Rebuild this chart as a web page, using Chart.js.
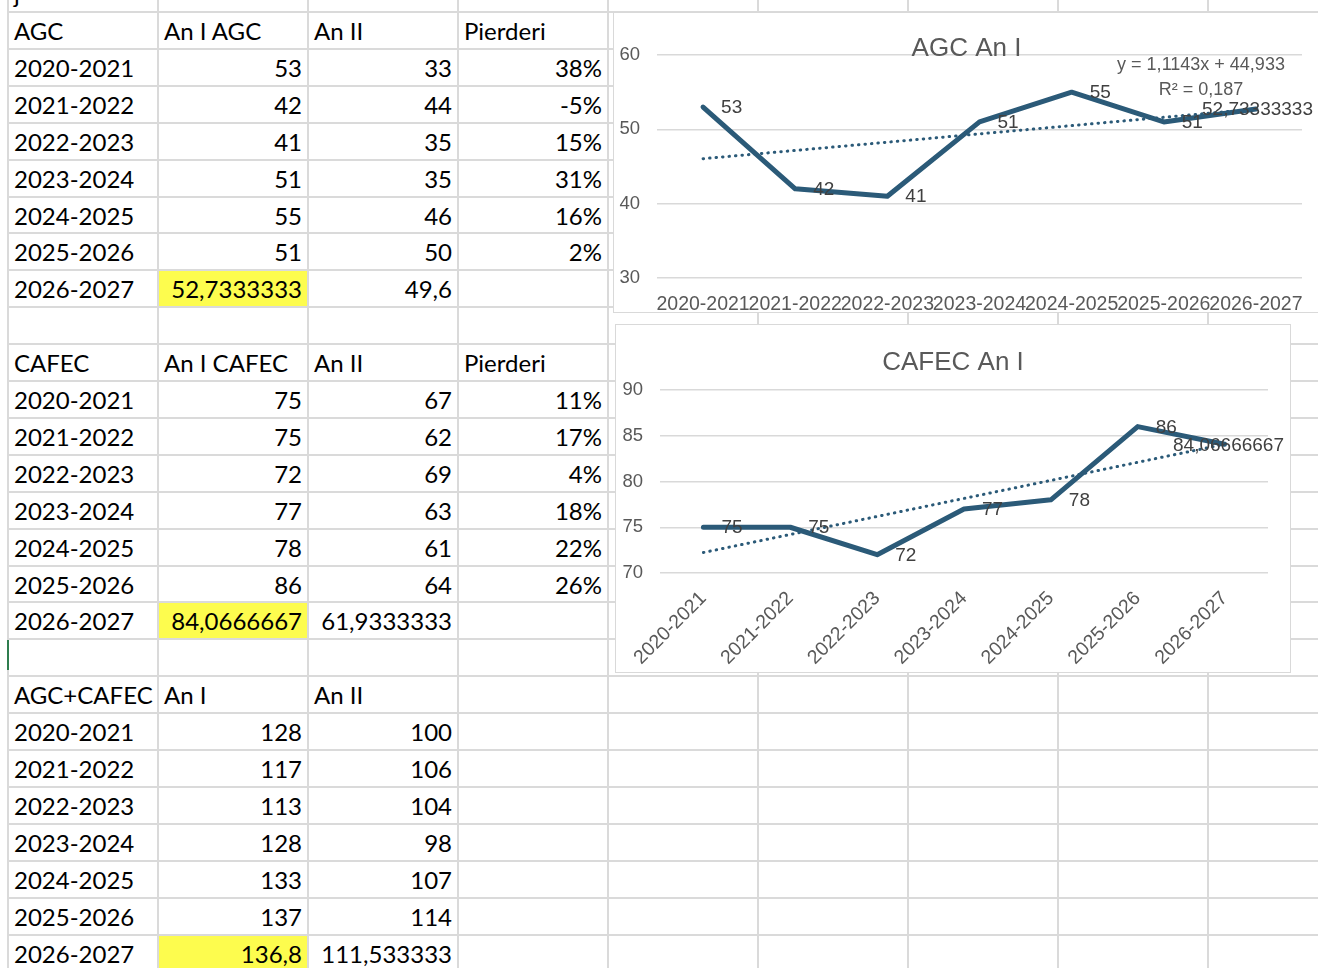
<!DOCTYPE html>
<html>
<head>
<meta charset="utf-8">
<title>AGC / CAFEC</title>
<script src="https://cdn.jsdelivr.net/npm/chart.js@4.4.1/dist/chart.umd.min.js"></script>
<style>
  html, body { margin: 0; padding: 0; background: #fff; }
  body { width: 1318px; height: 968px; overflow: hidden; position: relative; font-family: Lato, 'Open Sans', sans-serif; }
  .vline { position: absolute; top: 0; width: 2px; height: 968px; background: #dadada; }
  .hline { position: absolute; left: 8px; width: 1310px; height: 2px; background: #dadada; }
  .cell { position: absolute; width: 148px; height: 35px; line-height: 35px; font-size: 24px; color: #000;
          white-space: nowrap; box-sizing: border-box; padding: 0 5px 0 5px; }
  .num { text-align: right; direction: rtl; }
  .num span { direction: ltr; unicode-bidi: embed; }
  .hl { background: #fdfc4e; }
  .chart-box { position: absolute; background: #fff; border: 1px solid #d9d9d9; }
  .chart-box canvas { display: block; }
  #sel { position: absolute; left: 7px; top: 640px; width: 2px; height: 30px; background: #2f7d4f; }
</style>
</head>
<body>
<div id="sheet"></div>
<div id="sel"></div>
<div class="chart-box" style="left:613px; top:12px; width:705px; height:299px;">
  <canvas id="agcChart" width="705" height="299"></canvas>
</div>
<div class="chart-box" style="left:615px; top:324px; width:674px; height:347px;">
  <canvas id="cafecChart" width="674" height="347"></canvas>
</div>

<script>
// ---------------- data ----------------
const years = ['2020-2021', '2021-2022', '2022-2023', '2023-2024', '2024-2025', '2025-2026', '2026-2027'];

const agcAn1 = [53, 42, 41, 51, 55, 51, 52.73333333];
const agcAn2 = [33, 44, 35, 35, 46, 50, 49.6];
const agcLoss = [38, -5, 15, 31, 16, 2, null];

const cafecAn1 = [75, 75, 72, 77, 78, 86, 84.06666667];
const cafecAn2 = [67, 62, 69, 63, 61, 64, 61.9333333];
const cafecLoss = [11, 17, 4, 18, 22, 26, null];

const totalAn1 = [128, 117, 113, 128, 133, 137, 136.8];
const totalAn2 = [100, 106, 104, 98, 107, 114, 111.533333];

// linear trendlines as shown in the charts
const agcTrend = [46.05, 47.16, 48.27, 49.39, 50.50, 51.62, 52.73];
const cafecTrend = [72.24, 74.21, 76.18, 78.15, 80.12, 82.10, 84.07];

const agcTicks = [30, 60, 10];   // min, max, step
const cafecTicks = [70, 90, 5];

// ---------------- sheet ----------------
const sheet = document.getElementById('sheet');
const COL0 = 8, COLW = 150, ROW0 = 12, ROWH = 36.9;

for (let c = 0; c <= 8; c++) {
  const d = document.createElement('div');
  d.className = 'vline';
  d.style.left = (COL0 + c * COLW - 1) + 'px';
  sheet.appendChild(d);
}
for (let r = 0; r <= 26; r++) {
  const d = document.createElement('div');
  d.className = 'hline';
  d.style.top = Math.round(ROW0 + r * ROWH - 1) + 'px';
  sheet.appendChild(d);
}

function fmtCell(v) {
  if (v === null || v === undefined) return '';
  return String(Number(v.toPrecision(9))).replace('.', ',');
}

function addCell(r, c, text, isNum, highlight) {
  const d = document.createElement('div');
  d.className = 'cell' + (isNum ? ' num' : '') + (highlight ? ' hl' : '');
  d.style.left = (COL0 + c * COLW + 1) + 'px';
  d.style.top = Math.round(ROW0 + r * ROWH + 1) + 'px';
  if (isNum) {
    const s = document.createElement('span');
    s.textContent = text;
    d.appendChild(s);
  } else {
    d.textContent = text;
  }
  sheet.appendChild(d);
}

// stray text from the row above
addCell(-1, 0, 'j', false, false);

function addBlock(startRow, headers, an1, an2, loss) {
  headers.forEach((h, c) => addCell(startRow, c, h, false, false));
  years.forEach((y, i) => {
    const r = startRow + 1 + i;
    const last = i === years.length - 1;
    addCell(r, 0, y, false, false);
    addCell(r, 1, fmtCell(an1[i]), true, last);
    addCell(r, 2, fmtCell(an2[i]), true, false);
    if (loss && loss[i] !== null) addCell(r, 3, loss[i] + '%', true, false);
  });
}

addBlock(0, ['AGC', 'An I AGC', 'An II', 'Pierderi'], agcAn1, agcAn2, agcLoss);
addBlock(9, ['CAFEC', 'An I CAFEC', 'An II', 'Pierderi'], cafecAn1, cafecAn2, cafecLoss);
addBlock(18, ['AGC+CAFEC', 'An I', 'An II'], totalAn1, totalAn2, null);

// ---------------- charts ----------------
const LINE = '#2b5a78';
const TXT = '#595959';
const FONT = '"Liberation Sans", Arial, sans-serif';

function fmtLabel(v) {
  return String(Number(v.toPrecision(10))).replace('.', ',');
}

const sheetTitle = {
  id: 'sheetTitle',
  afterDraw(chart, args, opts) {
    const ctx = chart.ctx;
    ctx.save();
    ctx.font = '26px ' + FONT;
    ctx.fillStyle = TXT;
    ctx.textAlign = 'center';
    ctx.textBaseline = 'middle';
    ctx.fillText(opts.text, chart.width / 2, opts.y);
    if (opts.lines) {
      ctx.font = '18px ' + FONT;
      opts.lines.forEach((l, i) => ctx.fillText(l, chart.chartArea.right - 101, chart.chartArea.top + 10 + i * 25));
    }
    ctx.restore();
  }
};

const pointLabels = {
  id: 'pointLabels',
  afterDatasetsDraw(chart) {
    const meta = chart.getDatasetMeta(0);
    const vals = chart.data.datasets[0].data;
    const ctx = chart.ctx;
    ctx.save();
    ctx.font = '19px ' + FONT;
    ctx.fillStyle = '#404040';
    ctx.textBaseline = 'middle';
    ctx.textAlign = 'left';
    meta.data.forEach((pt, i) => {
      const txt = fmtLabel(vals[i]);
      const w = ctx.measureText(txt).width;
      let x = pt.x + 18;
      if (x + w > chart.width - 6) x = chart.width - 6 - w;
      ctx.fillText(txt, x, pt.y + 1);
    });
    ctx.restore();
  }
};

function makeChart(id, values, trend, ticks, cfg) {
  return new Chart(document.getElementById(id), {
    type: 'line',
    data: {
      labels: years,
      datasets: [
        { data: values, borderColor: LINE, borderWidth: 5, pointRadius: 0, tension: 0,
          borderJoinStyle: 'round', borderCapStyle: 'round' },
        { data: trend, borderColor: LINE, borderWidth: 3, pointRadius: 0, tension: 0,
          borderDash: [0.5, 6], borderCapStyle: 'round' }
      ]
    },
    options: {
      responsive: false,
      animation: false,
      layout: { padding: { top: cfg.top, right: cfg.right, left: 0, bottom: 0 } },
      plugins: {
        legend: { display: false },
        tooltip: { enabled: false },
        sheetTitle: { text: cfg.title, y: cfg.titleY, lines: cfg.lines }
      },
      scales: {
        x: {
          offset: true,
          grid: { display: false, drawTicks: false },
          border: { display: false },
          ticks: { autoSkip: false, minRotation: cfg.rot, maxRotation: cfg.rot, padding: cfg.xPad,
                   color: TXT, font: { family: FONT, size: 19.5 } },
          afterFit(s) { s.height = cfg.xH; }
        },
        y: {
          min: ticks[0], max: ticks[1],
          grid: { color: '#d9d9d9', lineWidth: 1.5, drawTicks: false },
          border: { display: false },
          ticks: { stepSize: ticks[2], padding: 17, color: TXT, font: { family: FONT, size: 18.5 } },
          afterFit(s) { s.width = cfg.yW; }
        }
      }
    },
    plugins: [pointLabels, sheetTitle]
  });
}

makeChart('agcChart', agcAn1, agcTrend, agcTicks, {
  title: 'AGC An I', titleY: 36, top: 42, right: 17, yW: 43, xH: 34, rot: 0, xPad: 15,
  lines: ['y = 1,1143x + 44,933', 'R\u00B2 = 0,187']
});

makeChart('cafecChart', cafecAn1, cafecTrend, cafecTicks, {
  title: 'CAFEC An I', titleY: 38, top: 65, right: 22, yW: 44, xH: 99, rot: 45, xPad: 14
});
</script>
</body>
</html>
